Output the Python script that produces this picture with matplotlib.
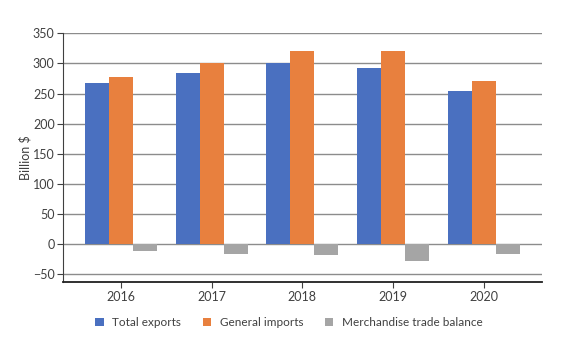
import matplotlib
matplotlib.use('Agg')
import matplotlib.pyplot as plt
import numpy as np

plt.rcParams['font.family'] = ['Lato', 'DejaVu Sans']

years = ['2016', '2017', '2018', '2019', '2020']
total_exports = [267, 284, 300, 293, 255]
general_imports = [278, 300, 320, 320, 271]
trade_balance = [-11, -16, -18, -27, -16]

series = [
    ('Total exports', total_exports, '#4A70C0'),
    ('General imports', general_imports, '#E8803E'),
    ('Merchandise trade balance', trade_balance, '#A5A5A5'),
]

fig = plt.figure(figsize=(5.61, 3.6), dpi=100)
ax = fig.add_axes([0.1123, 0.2175, 0.8533, 0.69])

x = np.arange(len(years))
width = 0.265
for i, (name, vals, color) in enumerate(series):
    ax.bar(x + (i - 1) * width, vals, width, color=color, label=name, zorder=3)

ax.set_xlim(-0.64, 4.64)
ax.set_ylim(-62, 350)
ax.set_yticks(np.arange(-50, 351, 50))
ax.set_yticklabels([str(v).replace('-', '\u2212') for v in range(-50, 351, 50)])
ax.set_xticks(x)
ax.set_xticklabels(years)

ax.grid(axis='y', color='#8c8c8c', linewidth=1.0, zorder=0)
for s in ['top', 'right']:
    ax.spines[s].set_visible(False)
ax.spines['left'].set_color('#404040')
ax.spines['bottom'].set_color('#202020')
ax.spines['bottom'].set_linewidth(1.3)
ax.tick_params(axis='y', length=4, color='#404040', labelsize=9, labelcolor='#404040', pad=2)
ax.tick_params(axis='x', length=4, color='#404040', labelsize=9, labelcolor='#404040', pad=3)
ax.set_ylabel('Billion $', fontsize=9, color='#404040', labelpad=1)

fig.legend(loc='center', bbox_to_anchor=(0.515, 0.103), ncol=3, frameon=False,
           fontsize=8.5, handlelength=0.7, handleheight=0.7, columnspacing=1.8,
           handletextpad=0.76, labelcolor='#404040')

fig.savefig('out.png', dpi=100)
